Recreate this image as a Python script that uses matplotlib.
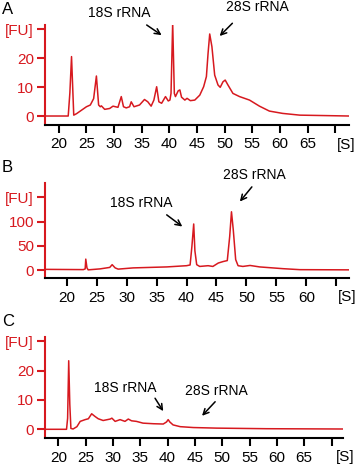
import matplotlib
matplotlib.use('Agg')
from matplotlib import pyplot as plt
from matplotlib import transforms

plt.rcParams['font.family'] = ['Liberation Sans', 'DejaVu Sans']

RED = '#d7191f'

# panel A trace (migration time [s], fluorescence [FU])
time_a = [17.5, 21.7, 22.0, 22.3, 22.7, 23.2, 25.0, 25.7, 26.3, 26.8, 27.2, 27.5, 27.7, 28.3,
          29.2, 29.8, 30.7, 31.3, 31.7, 32.2, 32.8, 33.1, 33.6, 34.6, 35.5, 36.1, 36.7, 37.2,
          37.7, 38.1, 38.6, 39.3, 39.8, 40.1, 40.3, 40.6, 40.9, 41.1, 41.6, 41.9, 42.2, 42.8,
          43.2, 43.8, 44.6, 45.5, 46.2, 46.7, 47.0, 47.3, 47.7, 48.2, 48.8, 49.2, 49.7, 50.1,
          50.6, 51.5, 52.7, 54.5, 56.3, 58.1, 60.5, 63.6, 69.6, 72.5]
fu_a = [0.0, 0.0, 8.0, 20.5, 0.3, 0.8, 3.2, 3.8, 6.0, 13.8, 3.8, 3.2, 3.5, 2.3,
        2.6, 3.4, 3.0, 6.7, 3.2, 2.8, 3.2, 4.9, 3.2, 3.8, 5.7, 4.9, 3.4, 5.5,
        10.1, 4.9, 4.4, 6.7, 5.2, 5.5, 7.8, 32.2, 7.8, 6.7, 8.7, 9.0, 6.5, 5.5,
        6.1, 5.3, 5.5, 7.2, 10.1, 13.6, 21.6, 28.3, 23.9, 14.1, 10.7, 9.9, 11.8, 12.4,
        10.7, 7.8, 6.7, 5.5, 3.4, 1.7, 0.9, 0.3, 0.1, 0.0]

# panel B trace
time_b = [16.4, 22.8, 23.1, 23.2, 23.4, 23.6, 25.6, 27.2, 27.6, 28.1, 28.6, 31.1, 36.7, 40.0,
          40.6, 40.9, 41.2, 41.4, 41.7, 42.2, 43.6, 44.4, 45.3, 46.1, 46.8, 47.2, 47.5, 47.8,
          48.2, 48.6, 49.4, 50.6, 52.2, 56.1, 58.9, 67.1]
fu_b = [2.0, 1.5, 3.0, 23.0, 5.0, 1.0, 3.0, 6.0, 11.6, 5.0, 2.5, 5.0, 7.0, 9.5,
        11.0, 49.0, 95.0, 40.0, 11.6, 8.0, 9.5, 8.0, 15.0, 18.0, 20.0, 69.0, 120.0, 83.0,
        22.0, 9.5, 8.0, 10.0, 7.0, 3.4, 1.4, 1.0]

# panel C trace
time_c = [17.6, 21.5, 21.7, 21.9, 22.1, 22.3, 22.7, 23.4, 24.0, 24.9, 25.5, 26.1, 26.7, 27.3,
          28.2, 29.5, 29.8, 30.4, 31.3, 32.2, 32.8, 33.4, 34.3, 35.5, 37.4, 39.2, 39.8, 40.1,
          40.4, 41.0, 42.3, 44.7, 49.0, 58.1, 72.1]
fu_c = [0.0, 0.0, 3.8, 23.4, 8.5, 0.3, 0.1, 0.9, 2.7, 3.3, 3.6, 5.3, 4.4, 3.6,
        3.0, 3.5, 3.8, 2.7, 3.3, 2.7, 3.5, 2.9, 2.7, 2.1, 1.9, 1.8, 2.5, 3.3,
        2.5, 1.5, 0.9, 0.6, 0.4, 0.2, 0.1]

panels = [
    dict(label='A', t=time_a, fu=fu_a,
         pos=[45 / 358, 345 / 470, 304 / 358, 100 / 470],
         xlim=(17.5, 72.5), ylim=(-3.1, 31.4),
         xticks=[20, 25, 30, 35, 40, 45, 50, 55, 60, 65, 70],
         yticks=[0, 10, 20, 30],
         ann18=((31.0, 35.5), (35.9, 31.4), (38.6, 27.9)),
         ann28=((55.9, 37.6), (51.4, 32.0), (49.1, 27.6)),
         s_shift=11),
    dict(label='B', t=time_b, fu=fu_b,
         pos=[45 / 358, 192 / 470, 304 / 358, 95 / 470],
         xlim=(16.4, 67.1), ylim=(-15.7, 179),
         xticks=[20, 25, 30, 35, 40, 45, 50, 55, 60, 65],
         yticks=[0, 50, 100, 150],
         ann18=((32.5, 137.5), (36.7, 113.7), (39.3, 89.8)),
         ann28=((51.4, 195), (50.9, 171), (48.9, 141)),
         s_shift=11),
    dict(label='C', t=time_c, fu=fu_c,
         pos=[45 / 358, 32 / 470, 298 / 358, 101 / 470],
         xlim=(17.56, 72.1), ylim=(-2.97, 31.5),
         xticks=[20, 25, 30, 35, 40, 45, 50, 55, 60, 65, 70],
         yticks=[0, 10, 20, 30],
         ann18=((32.2, 14.0), (37.7, 10.6), (39.2, 6.2)),
         ann28=((49.0, 13.1), (48.7, 9.4), (46.3, 4.6)),
         s_shift=14),
]

fig = plt.figure(figsize=(3.58, 4.70), dpi=100)

for p in panels:
    ax = fig.add_axes(p['pos'])
    ax.plot(p['t'], p['fu'], color=RED, lw=1.1, zorder=3)
    ax.set_xlim(*p['xlim'])
    ax.set_ylim(*p['ylim'])

    for side in ['top', 'right']:
        ax.spines[side].set_visible(False)
    ax.spines['left'].set_color(RED)
    ax.spines['left'].set_linewidth(1.5)
    ax.spines['bottom'].set_linewidth(1.5)

    ax.set_xticks(p['xticks'])
    ax.set_xticklabels([str(v) for v in p['xticks'][:-1]] + ['[S]'])
    ax.set_yticks(p['yticks'])
    ax.set_yticklabels([str(v) for v in p['yticks'][:-1]] + ['[FU]'])

    ax.tick_params(axis='x', length=6, width=1.5, labelsize=11, pad=3, colors='black')
    ax.tick_params(axis='y', length=6, width=1.5, labelsize=11, pad=2,
                   colors=RED, labelcolor=RED)

    # "[S]" sits a little right of its tick
    last = ax.get_xticklabels()[-1]
    last.set_transform(last.get_transform() +
                       transforms.ScaledTranslation(p['s_shift'] / 100, 0, fig.dpi_scale_trans))

    for name, (txt, tail, head) in [('18S rRNA', p['ann18']), ('28S rRNA', p['ann28'])]:
        ax.text(txt[0], txt[1], name, fontsize=10, ha='center', va='center', clip_on=False)
        ax.annotate('', xy=head, xytext=tail, annotation_clip=False,
                    arrowprops=dict(arrowstyle='->', color='black', lw=1.1,
                                    shrinkA=0, shrinkB=0))

    fig.text(2 / 358, p['pos'][1] + p['pos'][3] + 8 / 470, p['label'],
             fontsize=12, ha='left', va='bottom')

fig.savefig('out.png', dpi=100)
